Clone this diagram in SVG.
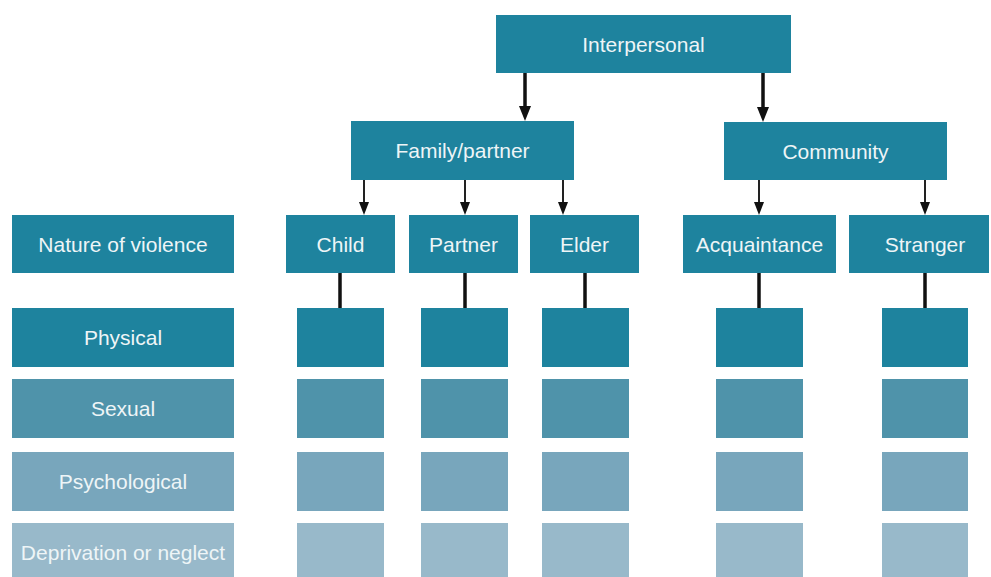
<svg xmlns="http://www.w3.org/2000/svg" width="991" height="577" viewBox="0 0 991 577">
<defs>
<style>
.n{fill:#1e839e}
.s{fill:#4f93aa}
.p{fill:#78a6bc}
.d{fill:#98b9ca}
text{font-family:"Liberation Sans",Arial,sans-serif;font-size:21px;fill:#eef5f7;text-anchor:middle}
.thick{stroke:#111;stroke-width:3.5;fill:none}
.thin{stroke:#222;stroke-width:2;fill:none}
.link{stroke:#111;stroke-width:3.5;fill:none}
.ah{fill:#111}
</style>
</defs>
<rect width="991" height="577" fill="#fff"/>
<g id="connectors">
<line class="thick" x1="525" y1="73" x2="525" y2="108"/>
<polygon class="ah" points="519,106 531,106 525,121"/>
<line class="thick" x1="763" y1="73" x2="763" y2="109"/>
<polygon class="ah" points="757,107 769,107 763,122"/>
<line class="thin" x1="364" y1="180" x2="364" y2="204"/>
<polygon class="ah" points="359,202 369,202 364,215"/>
<line class="thin" x1="465" y1="180" x2="465" y2="204"/>
<polygon class="ah" points="460,202 470,202 465,215"/>
<line class="thin" x1="563" y1="180" x2="563" y2="204"/>
<polygon class="ah" points="558,202 568,202 563,215"/>
<line class="thin" x1="759" y1="180" x2="759" y2="204"/>
<polygon class="ah" points="754,202 764,202 759,215"/>
<line class="thin" x1="925" y1="180" x2="925" y2="204"/>
<polygon class="ah" points="920,202 930,202 925,215"/>
<line class="link" x1="340" y1="273" x2="340" y2="308"/>
<line class="link" x1="465" y1="273" x2="465" y2="308"/>
<line class="link" x1="585" y1="273" x2="585" y2="308"/>
<line class="link" x1="759" y1="273" x2="759" y2="308"/>
<line class="link" x1="925" y1="273" x2="925" y2="308"/>
</g>
<g id="interpersonal"><rect class="n" x="496" y="15" width="295" height="58"/><text x="643.5" y="51.5">Interpersonal</text></g>
<g id="family"><rect class="n" x="351" y="121" width="223" height="59"/><text x="462.5" y="158">Family/partner</text></g>
<g id="community"><rect class="n" x="724" y="122" width="223" height="58"/><text x="835.5" y="158.5">Community</text></g>
<g id="nature"><rect class="n" x="12" y="215" width="222" height="58"/><text x="123" y="251.5">Nature of violence</text></g>
<g id="child"><rect class="n" x="286" y="215" width="109" height="58"/><text x="340.5" y="251.5">Child</text></g>
<g id="partner"><rect class="n" x="409" y="215" width="109" height="58"/><text x="463.5" y="251.5">Partner</text></g>
<g id="elder"><rect class="n" x="530" y="215" width="109" height="58"/><text x="584.5" y="251.5">Elder</text></g>
<g id="acquaintance"><rect class="n" x="683" y="215" width="153" height="58"/><text x="759.5" y="251.5">Acquaintance</text></g>
<g id="stranger"><rect class="n" x="849" y="215" width="140" height="58"/><text x="925" y="251.5">Stranger</text></g>
<g id="physical"><rect class="n" x="12" y="308" width="222" height="59"/><text x="123" y="345">Physical</text></g>
<g id="sexual"><rect class="s" x="12" y="379" width="222" height="59"/><text x="123" y="416">Sexual</text></g>
<g id="psychological"><rect class="p" x="12" y="452" width="222" height="59"/><text x="123" y="488.5">Psychological</text></g>
<g id="deprivation"><rect class="d" x="12" y="523" width="222" height="59"/><text x="123" y="559.5">Deprivation or neglect</text></g>
<g id="cells">
<rect class="n" x="297" y="308" width="87" height="59"/>
<rect class="n" x="421" y="308" width="87" height="59"/>
<rect class="n" x="542" y="308" width="87" height="59"/>
<rect class="n" x="716" y="308" width="87" height="59"/>
<rect class="n" x="882" y="308" width="86" height="59"/>
<rect class="s" x="297" y="379" width="87" height="59"/>
<rect class="s" x="421" y="379" width="87" height="59"/>
<rect class="s" x="542" y="379" width="87" height="59"/>
<rect class="s" x="716" y="379" width="87" height="59"/>
<rect class="s" x="882" y="379" width="86" height="59"/>
<rect class="p" x="297" y="452" width="87" height="59"/>
<rect class="p" x="421" y="452" width="87" height="59"/>
<rect class="p" x="542" y="452" width="87" height="59"/>
<rect class="p" x="716" y="452" width="87" height="59"/>
<rect class="p" x="882" y="452" width="86" height="59"/>
<rect class="d" x="297" y="523" width="87" height="59"/>
<rect class="d" x="421" y="523" width="87" height="59"/>
<rect class="d" x="542" y="523" width="87" height="59"/>
<rect class="d" x="716" y="523" width="87" height="59"/>
<rect class="d" x="882" y="523" width="86" height="59"/>
</g>
</svg>
